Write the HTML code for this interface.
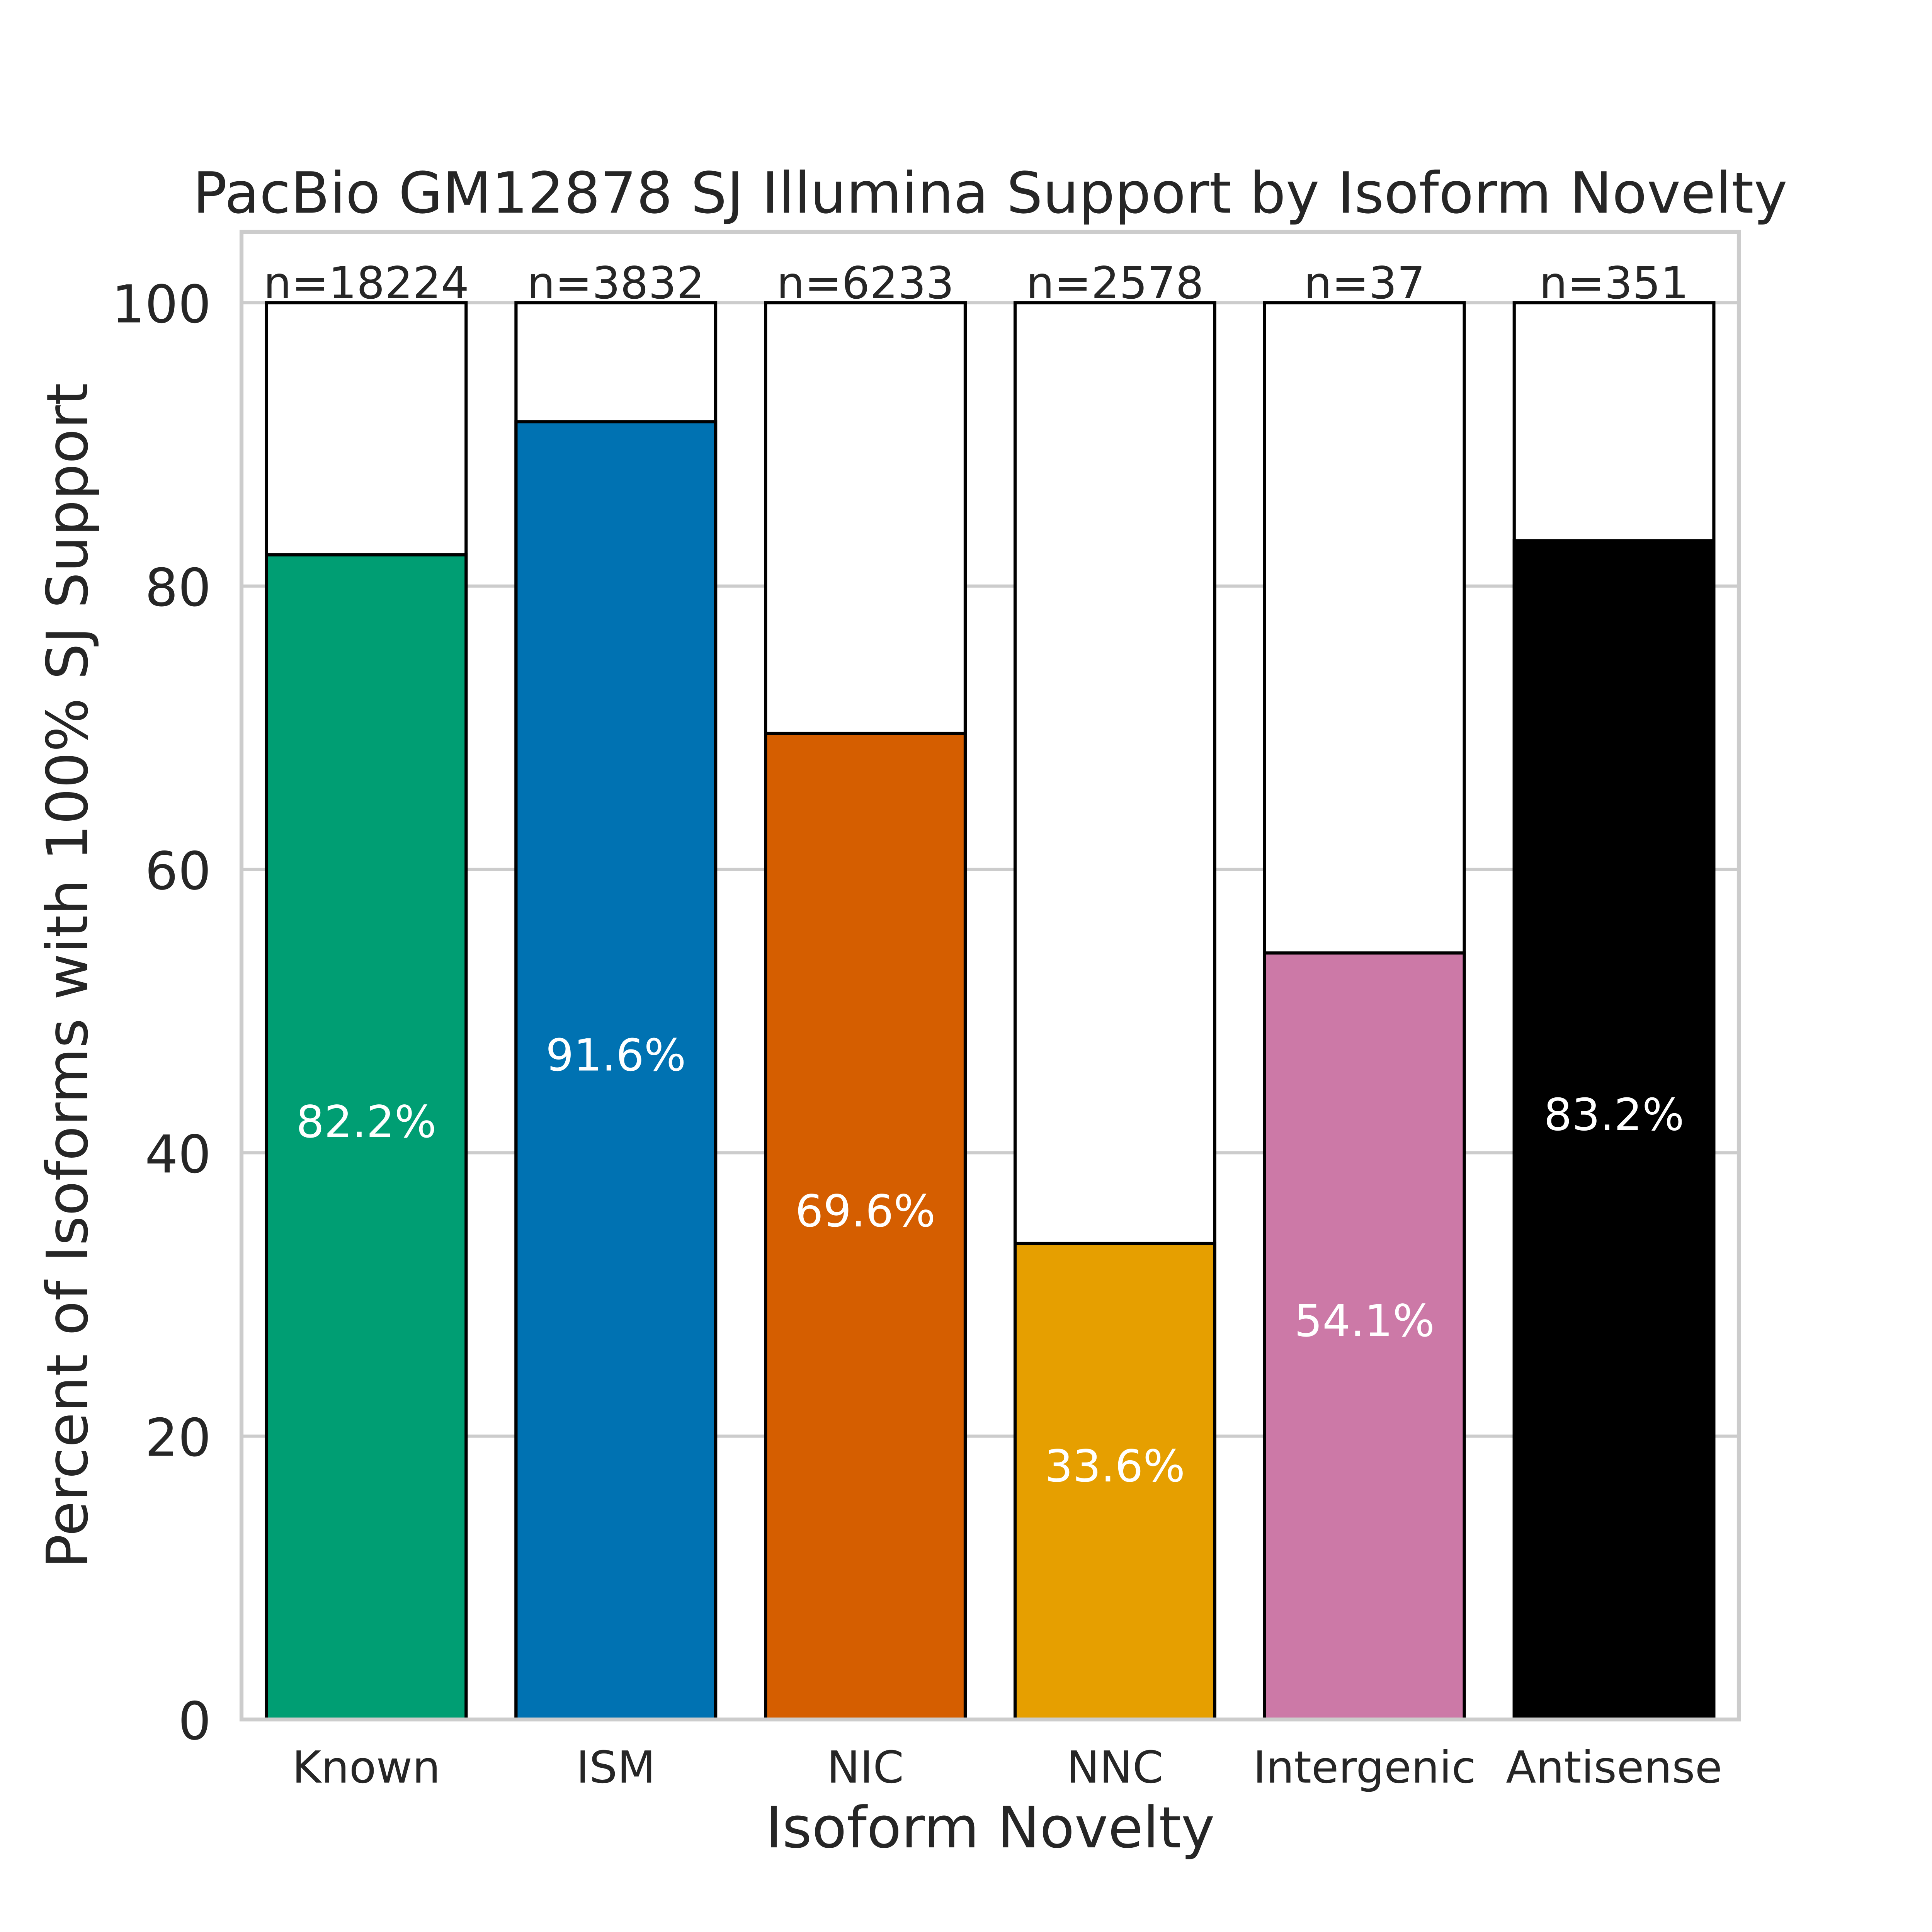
<!DOCTYPE html>
<html lang="en">
<head>
<meta charset="utf-8">
<title>PacBio GM12878 SJ Illumina Support by Isoform Novelty</title>
<style>
  html, body { margin: 0; padding: 0; width: 100%; height: 100%; overflow: hidden; background: #ffffff; }
  svg { display: block; width: 100vw; height: 100vh; }
  text { font-family: "DejaVu Sans", "Liberation Sans", sans-serif; fill: #262626; text-rendering: geometricPrecision; }
</style>
</head>
<body>
<svg id="chart" xmlns="http://www.w3.org/2000/svg" viewBox="0 0 5100 5100" preserveAspectRatio="none">
  <defs>
    <clipPath id="plot-clip"><rect x="637.5" y="612" width="3952.5" height="3927"></rect></clipPath>
  </defs>
  <rect x="0" y="0" width="5100" height="5100" fill="#ffffff"></rect>
  <g id="grid"></g>
  <g id="bars" clip-path="url(#plot-clip)"></g>
  <g id="count-labels"></g>
  <g id="percent-labels"></g>
  <rect x="637.5" y="612" width="3952.5" height="3927" fill="none" stroke="#cccccc" stroke-width="10.42"></rect>
  <g id="y-ticks"></g>
  <g id="x-ticks"></g>
  <text x="2613.75" y="561.5" font-size="150" text-anchor="middle" letter-spacing="0.12">PacBio GM12878 SJ Illumina Support by Isoform Novelty</text>
  <text x="2613.75" y="4876.5" font-size="150" text-anchor="middle">Isoform Novelty</text>
  <text x="230" y="2575.5" font-size="150" text-anchor="middle" letter-spacing="0.33" transform="rotate(-90 230 2575.5)">Percent of Isoforms with 100% SJ Support</text>
</svg>
<script>
const categories = ['Known', 'ISM', 'NIC', 'NNC', 'Intergenic', 'Antisense'];
const percentSupported = [82.2, 91.6, 69.6, 33.6, 54.1, 83.2];
const isoformCounts = [18224, 3832, 6233, 2578, 37, 351];
const yTickValues = [0, 20, 40, 60, 80, 100];
const barTotal = 100;
const barColors = ['#009E73', '#0072B2', '#D55E00', '#E69F00', '#CC79A7', '#000000'];

const SVG_NS = 'http://www.w3.org/2000/svg';
const plot = { left: 637.5, right: 4590, top: 612, bottom: 4539 };
const yMax = 105;
const bandStart = -0.5;
const bandEnd = 5.5;
const barWidth = 0.8;

function xScale(position) {
  return plot.left + (position - bandStart) / (bandEnd - bandStart) * (plot.right - plot.left);
}
function yScale(value) {
  return plot.bottom - value / yMax * (plot.bottom - plot.top);
}
function make(tag, parentId) {
  const el = document.createElementNS(SVG_NS, tag);
  document.getElementById(parentId).appendChild(el);
  return el;
}

yTickValues.forEach(function (tick) {
  const line = make('line', 'grid');
  
  
  line.setAttribute('x1', plot.left);
  line.setAttribute('x2', plot.right);
  line.setAttribute('y1', yScale(tick));
  line.setAttribute('y2', yScale(tick));
  line.setAttribute('stroke', '#cccccc');
  line.setAttribute('stroke-width', '8.33');

  const label = make('text', 'y-ticks');
  
  
  label.setAttribute('x', 557.5);
  label.setAttribute('y', yScale(tick) + 52);
  label.setAttribute('font-size', '137.5');
  label.setAttribute('text-anchor', 'end');
  label.textContent = String(tick);
});

categories.forEach(function (category, i) {
  const key = category.toLowerCase();
  const center = xScale(i);
  const left = xScale(i - barWidth / 2);
  const width = xScale(i + barWidth / 2) - left;

  const totalBar = make('rect', 'bars');
  
  
  totalBar.setAttribute('x', left);
  totalBar.setAttribute('y', yScale(barTotal));
  totalBar.setAttribute('width', width);
  totalBar.setAttribute('height', yScale(0) - yScale(barTotal));
  totalBar.setAttribute('fill', '#ffffff');
  totalBar.setAttribute('stroke', '#000000');
  totalBar.setAttribute('stroke-width', '8.33');

  const supportBar = make('rect', 'bars');
  
  
  supportBar.setAttribute('x', left);
  supportBar.setAttribute('y', yScale(percentSupported[i]));
  supportBar.setAttribute('width', width);
  supportBar.setAttribute('height', yScale(0) - yScale(percentSupported[i]));
  supportBar.setAttribute('fill', barColors[i]);
  supportBar.setAttribute('stroke', '#000000');
  supportBar.setAttribute('stroke-width', '8.33');

  const countLabel = make('text', 'count-labels');
  
  
  countLabel.setAttribute('x', center);
  countLabel.setAttribute('y', yScale(barTotal) - 11.5);
  countLabel.setAttribute('font-size', '116.67');
  countLabel.setAttribute('text-anchor', 'middle');
  countLabel.textContent = 'n=' + isoformCounts[i];

  const percentLabel = make('text', 'percent-labels');
  
  
  percentLabel.setAttribute('x', center);
  percentLabel.setAttribute('y', yScale(percentSupported[i] / 2));
  percentLabel.setAttribute('font-size', '116.67');
  percentLabel.setAttribute('text-anchor', 'middle');
  percentLabel.style.fill = '#ffffff';
  percentLabel.textContent = percentSupported[i].toFixed(1) + '%';

  const tickLabel = make('text', 'x-ticks');
  
  
  tickLabel.setAttribute('x', center);
  tickLabel.setAttribute('y', 4706);
  tickLabel.setAttribute('font-size', '116.67');
  tickLabel.setAttribute('text-anchor', 'middle');
  tickLabel.textContent = category;
});
</script>
</body>
</html>
